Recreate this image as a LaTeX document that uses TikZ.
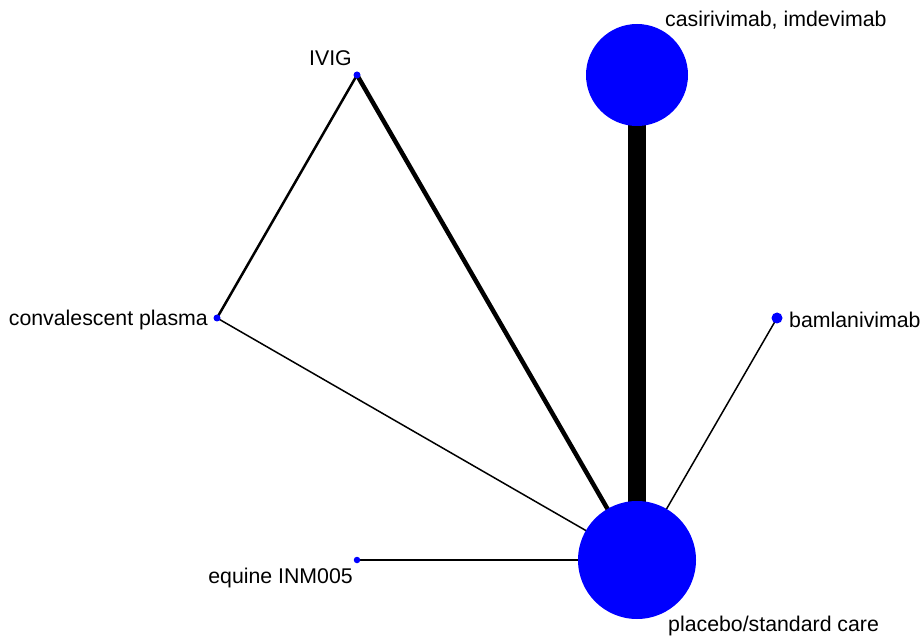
\documentclass[tikz,border=0pt]{standalone}
\usepackage{fontspec}
\setmainfont{Liberation Sans}
\usetikzlibrary{backgrounds}
\definecolor{nodeblue}{RGB}{0,0,255}
\tikzset{
  trt/.style={circle, fill=nodeblue, inner sep=0pt, minimum size=#1},
  lbl/.style={font=\fontsize{21.3}{25}\selectfont, inner sep=0pt},
  edge/.style={line width=#1, black}
}
\begin{document}
\begin{tikzpicture}[x=1pt, y=-1pt]
\useasboundingbox (0,0) rectangle (921,636);
% treatments
\node[trt=102pt] (cas) at (637,75) {};
\node[trt=118pt] (plac) at (637,560) {};
\node[trt=7pt] (ivig) at (357,75) {};
\node[trt=7pt] (conv) at (217,318) {};
\node[trt=11pt] (bam) at (777,318) {};
\node[trt=6.5pt] (equ) at (357,560) {};
% comparisons, line width by number of studies
\begin{pgfonlayer}{background}
\draw[edge=18pt] (cas.center) -- (plac.center);
\draw[edge=4.5pt] (ivig.center) -- (plac.center);
\draw[edge=2.5pt] (ivig.center) -- (conv.center);
\draw[edge=1.5pt] (conv.center) -- (plac.center);
\draw[edge=1.5pt] (bam.center) -- (plac.center);
\draw[edge=1.5pt] (equ.center) -- (plac.center);
\end{pgfonlayer}
% labels
\node[lbl, anchor=base west] (lcas) at (665,27) {casirivimab, imdevimab};
\node[lbl, anchor=base east] (livig) at (352,66) {IVIG};
\node[lbl, anchor=base east] (lconv) at (208,326) {convalescent plasma};
\node[lbl, anchor=base west] (lbam) at (789,327) {bamlanivimab};
\node[lbl, anchor=base east] (lequ) at (353,583) {equine INM005};
\node[lbl, anchor=base west] (lplac) at (668,631) {placebo/standard care};
\end{tikzpicture}
\end{document}
